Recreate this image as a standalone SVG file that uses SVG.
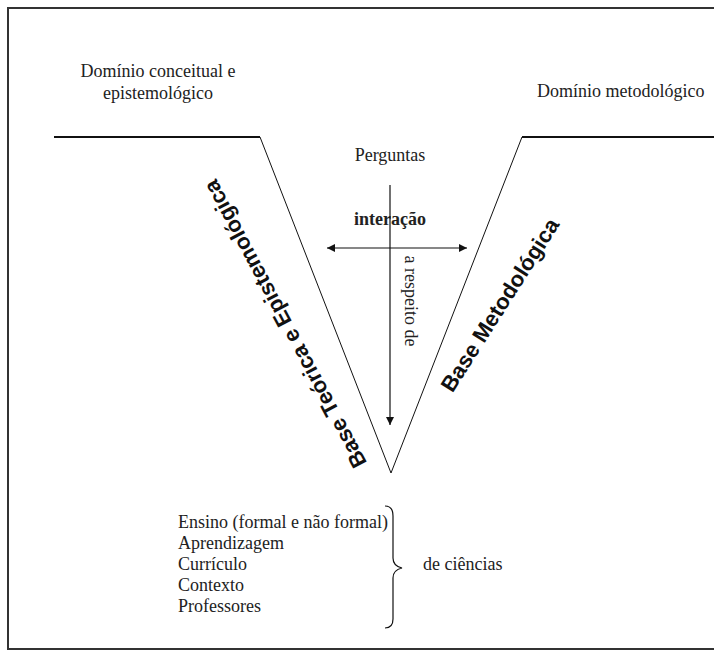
<svg xmlns="http://www.w3.org/2000/svg" width="714" height="653" viewBox="0 0 714 653">
<style>
.t{font-family:"Liberation Serif","Times New Roman",serif;font-size:18px;fill:#222}
.b{font-family:"Liberation Sans",Arial,sans-serif;font-size:22px;font-weight:bold;fill:#111}
.ln{stroke:#111;fill:none}
</style>
<defs>
<marker id="ah" viewBox="0 0 10 10" refX="10" refY="5" markerWidth="10" markerHeight="8" markerUnits="userSpaceOnUse" orient="auto">
<path d="M0,0 L10,5 L0,10 z" fill="#111"/>
</marker>
</defs>
<rect width="714" height="653" fill="#fff"/>
<rect x="8" y="8" width="712" height="641" fill="none" stroke="#333" stroke-width="2"/>
<g id="vee">
<path class="ln" d="M54,137 L260,137" stroke-width="2"/>
<path class="ln" d="M260,137 L391,473 L522,137" stroke-width="1"/>
<path class="ln" d="M522,137 L714,137" stroke-width="2"/>
</g>
<g id="dominio-conceitual">
<text class="t" x="158" y="77" text-anchor="middle">Domínio conceitual e</text>
<text class="t" x="158" y="99" text-anchor="middle">epistemológico</text>
</g>
<g id="dominio-metodologico">
<text class="t" x="537" y="97">Domínio metodológico</text>
</g>
<g id="perguntas">
<text class="t" x="390" y="161" text-anchor="middle">Perguntas</text>
</g>
<g id="interacao">
<text class="t" x="390" y="225" text-anchor="middle" font-weight="bold">interação</text>
</g>
<g id="a-respeito">
<text class="t" text-anchor="middle" dominant-baseline="central" transform="translate(411,301) rotate(90)">a respeito de</text>
</g>
<g id="base-teorica">
<text class="b" text-anchor="middle" dominant-baseline="central" transform="translate(285,324) rotate(-118)">Base Teórica e Epistemológica</text>
</g>
<g id="base-metodologica">
<text class="b" text-anchor="middle" dominant-baseline="central" transform="translate(500,305) rotate(-57.5)">Base Metodológica</text>
</g>
<g id="connectors">
<line class="ln" x1="390" y1="185" x2="390" y2="425" stroke-width="1.2" marker-end="url(#ah)"/>
<line class="ln" x1="390" y1="248" x2="327" y2="248" stroke-width="1.2" marker-end="url(#ah)"/>
<line class="ln" x1="390" y1="248" x2="467" y2="248" stroke-width="1.2" marker-end="url(#ah)"/>
</g>
<g id="lista">
<text class="t" x="178" y="528">Ensino (formal e não formal)</text>
<text class="t" x="178" y="549">Aprendizagem</text>
<text class="t" x="178" y="570">Currículo</text>
<text class="t" x="178" y="591">Contexto</text>
<text class="t" x="178" y="612">Professores</text>
</g>
<g id="chave">
<path class="ln" stroke-width="1.2" d="M385,506 Q393,506 393,516 L393,558 Q393,566 402,568 Q393,570 393,578 L393,619 Q393,628 385,628"/>
</g>
<g id="de-ciencias">
<text class="t" x="423" y="570">de ciências</text>
</g>
</svg>
